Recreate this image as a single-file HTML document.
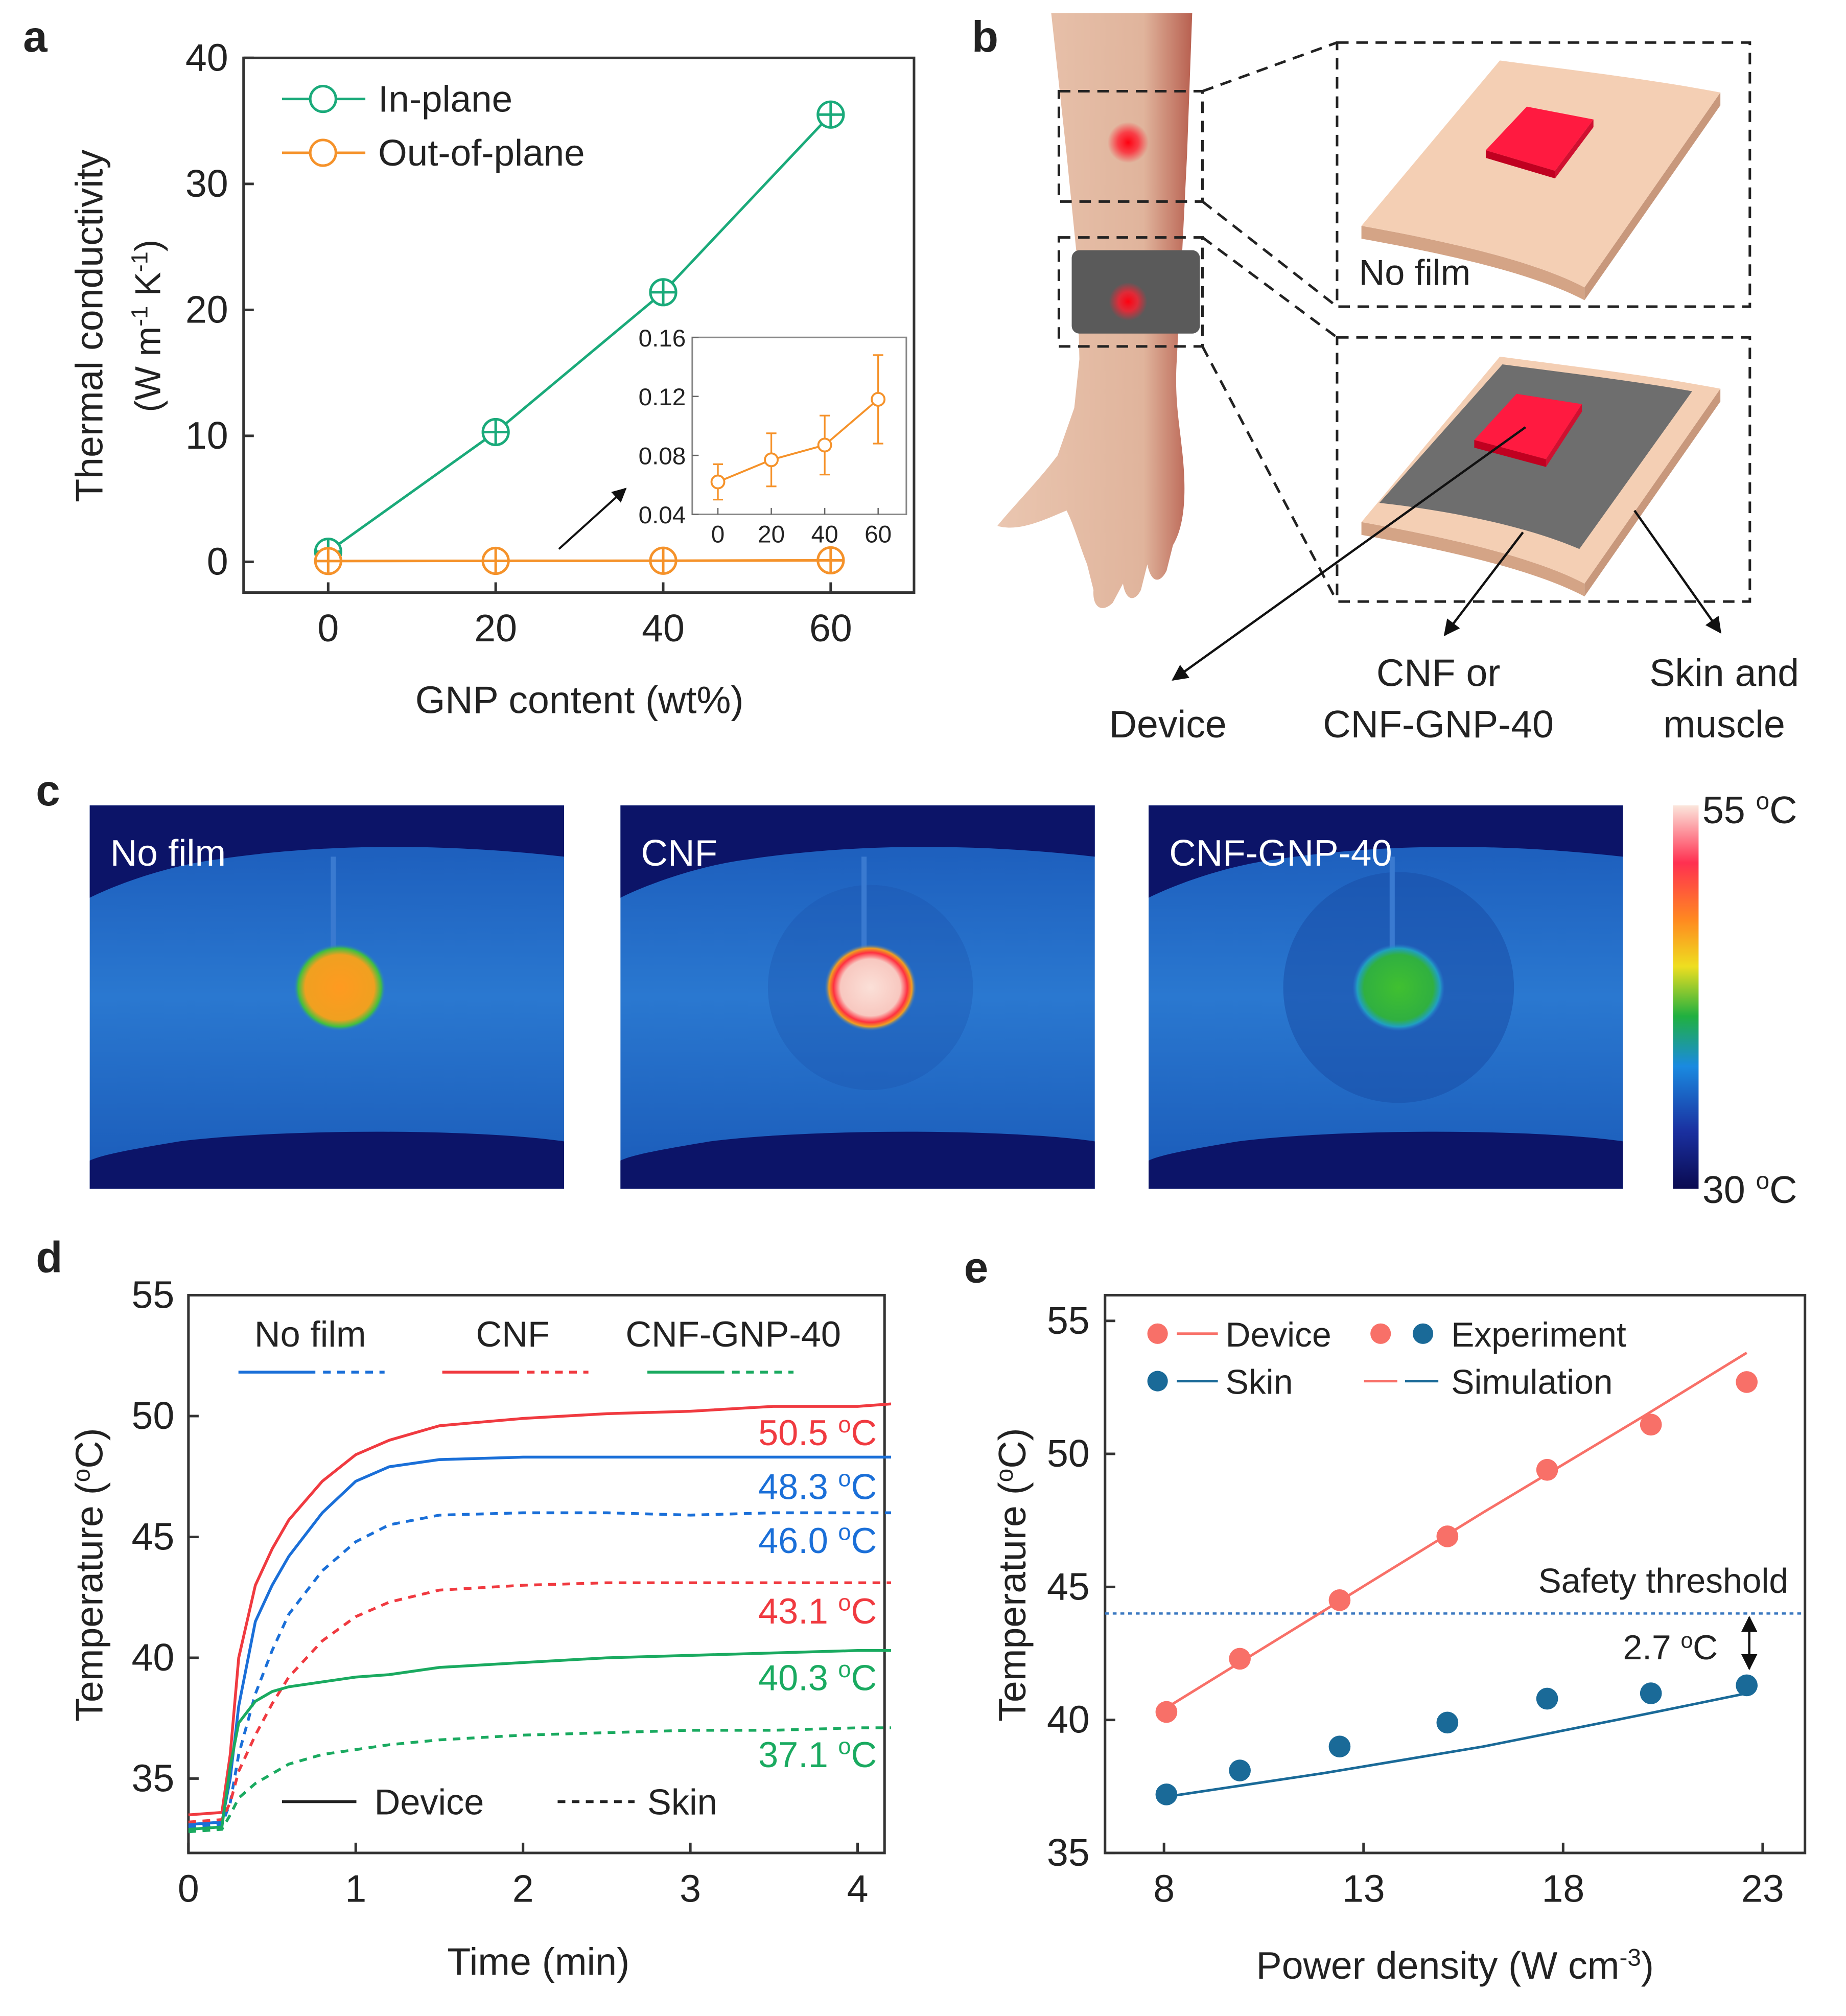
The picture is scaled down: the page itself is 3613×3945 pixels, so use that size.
<!DOCTYPE html>
<html><head><meta charset="utf-8"><style>
html,body{margin:0;padding:0;background:#fff}
svg{display:block}
text{font-family:"Liberation Sans",sans-serif;fill:#222}
</style></head><body>
<svg id="fig" width="3613" height="3945" viewBox="0 0 1440 1572" xmlns="http://www.w3.org/2000/svg">
<defs>
<radialGradient id="redspot"><stop offset="0" stop-color="#ff0010"/><stop offset="0.5" stop-color="#ff2030" stop-opacity="0.8"/><stop offset="1" stop-color="#ff2030" stop-opacity="0"/></radialGradient>
<linearGradient id="armg" x1="0" x2="1"><stop offset="0" stop-color="#eac6b0"/><stop offset="0.75" stop-color="#e0b49c"/><stop offset="1" stop-color="#b86050"/></linearGradient>
<linearGradient id="cbar" x1="0" y1="0" x2="0" y2="1"><stop offset="0" stop-color="#fbe6dc"/><stop offset="0.15" stop-color="#ff3050"/><stop offset="0.3" stop-color="#ff8a20"/><stop offset="0.42" stop-color="#eede20"/><stop offset="0.55" stop-color="#20b040"/><stop offset="0.68" stop-color="#1a8ae0"/><stop offset="0.85" stop-color="#1a30a0"/><stop offset="1" stop-color="#0a0a50"/></linearGradient>
<linearGradient id="thermbg" x1="0" y1="0" x2="0" y2="1"><stop offset="0" stop-color="#1a58b8"/><stop offset="0.5" stop-color="#2a78d0"/><stop offset="1" stop-color="#1a5ab8"/></linearGradient>
<radialGradient id="hotA"><stop offset="0" stop-color="#ff9a20"/><stop offset="0.75" stop-color="#f0a020"/><stop offset="0.9" stop-color="#40c040"/><stop offset="1" stop-color="#2a78d0" stop-opacity="0"/></radialGradient>
<radialGradient id="hotB"><stop offset="0" stop-color="#fbe0d8"/><stop offset="0.65" stop-color="#f8c8c0"/><stop offset="0.8" stop-color="#ff3040"/><stop offset="0.9" stop-color="#f0a020"/><stop offset="1" stop-color="#2a78d0" stop-opacity="0"/></radialGradient>
<radialGradient id="hotC"><stop offset="0" stop-color="#40c030"/><stop offset="0.75" stop-color="#30b040"/><stop offset="0.9" stop-color="#20a0c0"/><stop offset="1" stop-color="#2a78d0" stop-opacity="0"/></radialGradient>
<marker id="arr" viewBox="0 0 10 10" refX="9" refY="5" markerWidth="7" markerHeight="7" orient="auto-start-reverse"><path d="M0,0 L10,5 L0,10 z" fill="#111"/></marker>
</defs>

<!-- Panel a -->
<g id="pa">
<text x="18" y="40" font-size="34" font-weight="bold">a</text>
<rect x="190" y="45" width="523" height="417" fill="none" stroke="#333" stroke-width="2"/>
<text transform="translate(80,254) rotate(-90)" text-anchor="middle" font-size="30">Thermal conductivity</text>
<text transform="translate(125,254) rotate(-90)" text-anchor="middle" font-size="28">(W m<tspan dy="-10" font-size="18">-1</tspan><tspan dy="10"> K</tspan><tspan dy="-10" font-size="18">-1</tspan><tspan dy="10">)</tspan></text>
<text x="452" y="556" text-anchor="middle" font-size="30">GNP content (wt%)</text>
<g id="pa-ax"></g><g id="pa-marks"></g>
<line x1="220" y1="77" x2="285" y2="77" stroke="#1aaa7a" stroke-width="2"/><circle cx="252" cy="77" r="10" fill="#fff" stroke="#1aaa7a" stroke-width="2"/>
<text x="295" y="87" font-size="29">In-plane</text>
<line x1="220" y1="119" x2="285" y2="119" stroke="#f5922a" stroke-width="2"/><circle cx="252" cy="119" r="10" fill="#fff" stroke="#f5922a" stroke-width="2"/>
<text x="295" y="129" font-size="29">Out-of-plane</text>
<line x1="436" y1="428" x2="488" y2="381" stroke="#111" stroke-width="1.6" marker-end="url(#arr)"/>
<rect x="540" y="263" width="167" height="138" fill="#fff" stroke="#888" stroke-width="1.2"/>
<g id="inset-ax"></g><g id="inset-marks"></g>
</g>

<!-- Panel b -->
<g id="pb">
<text x="758" y="40" font-size="34" font-weight="bold">b</text>
<path d="M820,10 L930,10 L926,120 L922,200 L918,280 C916,310 920,330 922,350 C926,385 924,410 915,425 L910,445 C905,455 898,455 895,440 L890,460 C885,470 878,468 876,455 L868,470 C860,478 852,474 853,460 L848,440 C842,425 838,410 832,398 C815,405 795,415 778,410 C790,395 810,375 825,355 L838,318 L842,280 L840,200 L832,120 Z" fill="url(#armg)"/>
<rect x="836" y="195" width="100" height="65" rx="6" fill="#5a5a5a"/>
<circle cx="880" cy="111" r="16" fill="url(#redspot)"/>
<circle cx="880" cy="235" r="15" fill="url(#redspot)"/>
<g fill="none" stroke="#222" stroke-width="2" stroke-dasharray="9,6">
<rect x="826" y="71" width="112" height="86"/>
<rect x="826" y="185" width="112" height="85"/>
<rect x="1043" y="33" width="322" height="206"/>
<rect x="1043" y="263" width="322" height="206"/>
<path d="M938,71 L1043,33 M938,157 L1043,239 M938,185 L1043,263 M938,270 L1043,469"/>
</g>
<g>
<path d="M1062,176 C1140,190 1200,205 1236,224 L1236,234 C1200,215 1140,200 1062,186 Z" fill="#d4a486"/>
<path d="M1342,72 L1342,82 L1236,234 L1236,224 Z" fill="#c8987c"/>
<path d="M1062,176 L1170,47 C1230,55 1290,62 1342,72 L1236,224 C1200,205 1140,190 1062,176 Z" fill="#f4cfb4"/>
<path d="M1159,117 L1191,83 L1243,93 L1213,133 Z" fill="#ff1a40"/><path d="M1159,117 L1213,133 L1213,139 L1159,123 Z" fill="#c00020"/><path d="M1243,93 L1243,99 L1213,139 L1213,133 Z" fill="#d01030"/>
</g>
<text x="1060" y="222" font-size="28">No film</text>
<g>
<path d="M1062,407 C1140,421 1200,436 1236,455 L1236,465 C1200,446 1140,431 1062,417 Z" fill="#d4a486"/>
<path d="M1342,303 L1342,313 L1236,465 L1236,455 Z" fill="#c8987c"/>
<path d="M1062,407 L1170,278 C1230,286 1290,293 1342,303 L1236,455 C1200,436 1140,421 1062,407 Z" fill="#f4cfb4"/>
<path d="M1076,392 L1172,284 C1225,291 1275,297 1320,305 L1232,428 C1190,410 1130,398 1076,392 Z" fill="#6e6e6e"/>
<path d="M1150,343 L1183,307 L1234,315 L1206,358 Z" fill="#ff1a40"/><path d="M1150,343 L1206,358 L1206,364 L1150,349 Z" fill="#c00020"/><path d="M1234,315 L1234,321 L1206,364 L1206,358 Z" fill="#d01030"/>
</g>
<g stroke="#111" stroke-width="1.8" fill="none">
<line x1="1190" y1="333" x2="915" y2="530" marker-end="url(#arr)"/>
<line x1="1188" y1="415" x2="1127" y2="495" marker-end="url(#arr)"/>
<line x1="1275" y1="398" x2="1342" y2="493" marker-end="url(#arr)"/>
</g>
<text x="911" y="575" text-anchor="middle" font-size="30">Device</text>
<text x="1122" y="535" text-anchor="middle" font-size="30">CNF or</text>
<text x="1122" y="575" text-anchor="middle" font-size="30">CNF-GNP-40</text>
<text x="1345" y="535" text-anchor="middle" font-size="30">Skin and</text>
<text x="1345" y="575" text-anchor="middle" font-size="30">muscle</text>
</g>

<!-- Panel c -->
<g id="pc">
<text x="28" y="628" font-size="34" font-weight="bold">c</text>
<g id="therm"></g>
<rect x="1305" y="628" width="20" height="299" fill="url(#cbar)"/>
<text x="1328" y="642" font-size="30">55 <tspan dy="-11" font-size="19">o</tspan><tspan dy="11">C</tspan></text>
<text x="1328" y="938" font-size="30">30 <tspan dy="-11" font-size="19">o</tspan><tspan dy="11">C</tspan></text>
</g>

<!-- Panel d -->
<g id="pd">
<text x="28" y="992" font-size="34" font-weight="bold">d</text>
<rect x="147" y="1010" width="543" height="435" fill="none" stroke="#333" stroke-width="2"/>
<text transform="translate(80,1228) rotate(-90)" text-anchor="middle" font-size="30">Temperature (<tspan dy="-10" font-size="19">o</tspan><tspan dy="10">C)</tspan></text>
<text x="420" y="1540" text-anchor="middle" font-size="30">Time (min)</text>
<g id="pd-ax"></g><g id="pd-lines"></g>
<text x="242" y="1050" text-anchor="middle" font-size="28">No film</text>
<text x="400" y="1050" text-anchor="middle" font-size="28">CNF</text>
<text x="572" y="1050" text-anchor="middle" font-size="28">CNF-GNP-40</text>
<g stroke-width="2.2">
<line x1="186" y1="1070" x2="246" y2="1070" stroke="#1a6fd8"/><line x1="252" y1="1070" x2="300" y2="1070" stroke="#1a6fd8" stroke-dasharray="6,5"/>
<line x1="345" y1="1070" x2="405" y2="1070" stroke="#f03a40"/><line x1="411" y1="1070" x2="459" y2="1070" stroke="#f03a40" stroke-dasharray="6,5"/>
<line x1="505" y1="1070" x2="565" y2="1070" stroke="#1aaa60"/><line x1="571" y1="1070" x2="619" y2="1070" stroke="#1aaa60" stroke-dasharray="6,5"/>
<line x1="220" y1="1405" x2="278" y2="1405" stroke="#222"/><line x1="435" y1="1405" x2="495" y2="1405" stroke="#222" stroke-dasharray="6,5"/>
</g>
<text x="292" y="1415" font-size="28">Device</text>
<text x="505" y="1415" font-size="28">Skin</text>
<g id="pd-labels"></g>
</g>

<!-- Panel e -->
<g id="pe">
<text x="752" y="1000" font-size="34" font-weight="bold">e</text>
<rect x="862" y="1010" width="546" height="435" fill="none" stroke="#333" stroke-width="2"/>
<text transform="translate(800,1228) rotate(-90)" text-anchor="middle" font-size="30">Temperature (<tspan dy="-10" font-size="19">o</tspan><tspan dy="10">C)</tspan></text>
<text x="1135" y="1543" text-anchor="middle" font-size="30">Power density (W cm<tspan dy="-10" font-size="19">-3</tspan><tspan dy="10">)</tspan></text>
<g id="pe-ax"></g><g id="pe-marks"></g>
<circle cx="903" cy="1040" r="8" fill="#f87068"/><line x1="918" y1="1040" x2="950" y2="1040" stroke="#f87068" stroke-width="2"/>
<text x="956" y="1050" font-size="27">Device</text>
<circle cx="1077" cy="1040" r="8" fill="#f87068"/><circle cx="1110" cy="1040" r="8" fill="#1a6a98"/>
<text x="1132" y="1050" font-size="27">Experiment</text>
<circle cx="903" cy="1077" r="8" fill="#1a6a98"/><line x1="918" y1="1077" x2="950" y2="1077" stroke="#1a6a98" stroke-width="2"/>
<text x="956" y="1087" font-size="27">Skin</text>
<line x1="1064" y1="1077" x2="1090" y2="1077" stroke="#f87068" stroke-width="2"/><line x1="1096" y1="1077" x2="1122" y2="1077" stroke="#1a6a98" stroke-width="2"/>
<text x="1132" y="1087" font-size="27">Simulation</text>
<text x="1395" y="1242" text-anchor="end" font-size="27">Safety threshold</text>
<text x="1340" y="1294" text-anchor="end" font-size="27">2.7 <tspan dy="-9" font-size="17">o</tspan><tspan dy="9">C</tspan></text>
</g>

<script>
const NS='http://www.w3.org/2000/svg';
function mk(parent,tag,attrs,txt){const e=document.createElementNS(NS,tag);for(const k in attrs)e.setAttribute(k,attrs[k]);if(txt!==undefined)e.textContent=txt;parent.appendChild(e);return e;}

// ---------- Panel a data ----------
const aX=[0,20,40,60];
const aInPlane=[0.8,10.3,21.4,35.5];
const aOutPlane=[0.062,0.077,0.087,0.118];
const aOutErr=[0.012,0.018,0.02,0.03];
const aXTicks=[0,20,40,60];
const aYTicks=[0,10,20,30,40];
const insetYTicks=[0.04,0.08,0.12,0.16];
const insetXTicks=[0,20,40,60];

(function(){
 const xs=v=>256+(v-0)*(648-256)/60, ys=v=>438-v*(438-45)/40;
 const ax=document.getElementById('pa-ax'), mg=document.getElementById('pa-marks');
 aXTicks.forEach(t=>{const x=xs(t);mk(ax,'line',{x1:x,x2:x,y1:462,y2:454,stroke:'#333','stroke-width':2});
  const e=mk(ax,'text',{x:x,y:500,'text-anchor':'middle','font-size':30},t);
  
  });
 aYTicks.forEach(t=>{const y=ys(t);mk(ax,'line',{x1:190,x2:198,y1:y,y2:y,stroke:'#333','stroke-width':2});
  const e=mk(ax,'text',{x:178,y:y+10,'text-anchor':'end','font-size':30},t);
  
  });
 const lineFor=(arr,col,name)=>{const p=mk(mg,'polyline',{points:aX.map((x,i)=>xs(x)+','+ys(arr[i])).join(' '),fill:'none',stroke:col,'stroke-width':2});
  
  
  aX.forEach((x,i)=>{const cx=xs(x),cy=ys(arr[i]);const c=mk(mg,'circle',{cx:cx,cy:cy,r:10,fill:'#fff',stroke:col,'stroke-width':2});
   
   
   mk(mg,'line',{x1:cx-10,x2:cx+10,y1:cy,y2:cy,stroke:col,'stroke-width':2});mk(mg,'line',{x1:cx,x2:cx,y1:cy-10,y2:cy+10,stroke:col,'stroke-width':2});});};
 lineFor(aInPlane,'#1aaa7a','in-plane-line');
 lineFor(aOutPlane,'#f5922a','out-of-plane-line');
 const ix=v=>560+v*(685-560)/60, iy=v=>401-(v-0.04)*(401-263)/0.12;
 const iax=document.getElementById('inset-ax'), img=document.getElementById('inset-marks');
 insetYTicks.forEach(t=>{const y=iy(t);mk(iax,'line',{x1:540,x2:545,y1:y,y2:y,stroke:'#666'});
  const e=mk(iax,'text',{x:535,y:y+7,'text-anchor':'end','font-size':19},t.toFixed(2));
  
  });
 insetXTicks.forEach(t=>{const x=ix(t);mk(iax,'line',{x1:x,x2:x,y1:401,y2:396,stroke:'#666'});
  const e=mk(iax,'text',{x:x,y:423,'text-anchor':'middle','font-size':19},t);
  
  });
 const pl=mk(img,'polyline',{points:aX.map((x,i)=>ix(x)+','+iy(aOutPlane[i])).join(' '),fill:'none',stroke:'#f5922a','stroke-width':1.5});
 
 
 aX.forEach((x,i)=>{const cx=ix(x),y0=iy(aOutPlane[i]-aOutErr[i]),y1=iy(aOutPlane[i]+aOutErr[i]);
  mk(img,'line',{x1:cx,x2:cx,y1:y0,y2:y1,stroke:'#f5922a','stroke-width':1.3});
  mk(img,'line',{x1:cx-4,x2:cx+4,y1:y0,y2:y0,stroke:'#f5922a','stroke-width':1.3});
  mk(img,'line',{x1:cx-4,x2:cx+4,y1:y1,y2:y1,stroke:'#f5922a','stroke-width':1.3});
  const c=mk(img,'circle',{cx:cx,cy:iy(aOutPlane[i]),r:5,fill:'#fff',stroke:'#f5922a','stroke-width':1.5});
  
  });
})();

// ---------- Panel c thermal images ----------
const thermNames=['No film','CNF','CNF-GNP-40'];
(function(){
 const g=document.getElementById('therm');
 const xs=[70,484,896], grads=['hotA','hotB','hotC'];
 xs.forEach((x0,i)=>{
  const gg=mk(g,'g',{});
  
  
  mk(gg,'rect',{x:x0,y:628,width:370,height:299,fill:'url(#thermbg)'});
  mk(gg,'path',{d:`M${x0},628 L${x0+370},628 L${x0+370},668 C${x0+300},660 ${x0+200},655 ${x0+100},670 C${x0+60},675 ${x0+20},690 ${x0},700 Z`,fill:'#0c1468'});
  mk(gg,'path',{d:`M${x0},927 L${x0+370},927 L${x0+370},890 C${x0+300},880 ${x0+150},880 ${x0+70},890 C${x0+40},895 ${x0+10},900 ${x0},905 Z`,fill:'#0c1468'});
  if(i>0) mk(gg,'circle',{cx:x0+195,cy:770,r:i===2?90:80,fill:'#1a4ea8',opacity:i===2?0.55:0.3});
  mk(gg,'line',{x1:x0+190,x2:x0+190,y1:668,y2:745,stroke:'#3a7ad0','stroke-width':4});
  mk(gg,'ellipse',{cx:x0+195,cy:770,rx:36,ry:34,fill:'url(#'+grads[i]+')'});
  const t=mk(gg,'text',{x:x0+16,y:675,'font-size':29,fill:'#fff'},thermNames[i]);
  t.setAttribute('style','fill:#fff');
  
  
 });
})();

// ---------- Panel d data ----------
const dTime=[0,0.2,0.25,0.3,0.4,0.5,0.6,0.8,1.0,1.2,1.5,2,2.5,3,3.5,4,4.2];
const dCnfDevice=[33.5,33.6,36,40,43,44.5,45.7,47.3,48.4,49,49.6,49.9,50.1,50.2,50.4,50.4,50.5];
const dNoFilmDevice=[33.1,33.2,35,38,41.5,43,44.2,46,47.3,47.9,48.2,48.3,48.3,48.3,48.3,48.3,48.3];
const dNoFilmSkin=[33.0,33.1,34,36,38.5,40.3,41.8,43.6,44.8,45.5,45.9,46.0,46.0,45.9,46.0,46.0,46.0];
const dCnfSkin=[33.2,33.3,34,35.3,36.8,38.1,39.2,40.7,41.7,42.3,42.8,43.0,43.1,43.1,43.1,43.1,43.1];
const dGnpDevice=[32.9,33.0,35.5,37.3,38.2,38.6,38.8,39.0,39.2,39.3,39.6,39.8,40.0,40.1,40.2,40.3,40.3];
const dGnpSkin=[32.8,32.9,33.5,34.2,34.8,35.2,35.6,36.0,36.2,36.4,36.6,36.8,36.9,37.0,37.0,37.1,37.1];
const dXTicks=[0,1,2,3,4];
const dYTicks=[35,40,45,50,55];
const dEndLabels=['50.5','48.3','46.0','43.1','40.3','37.1'];

(function(){
 const xs=v=>147+v*(669-147)/4, ys=v=>1387-(v-35)*(1387-1010)/20;
 const ax=document.getElementById('pd-ax'), lg=document.getElementById('pd-lines'), lb=document.getElementById('pd-labels');
 dXTicks.forEach(t=>{const x=xs(t);mk(ax,'line',{x1:x,x2:x,y1:1445,y2:1437,stroke:'#333','stroke-width':2});
  const e=mk(ax,'text',{x:x,y:1483,'text-anchor':'middle','font-size':30},t);
  
  });
 dYTicks.forEach(t=>{const y=ys(t);mk(ax,'line',{x1:147,x2:155,y1:y,y2:y,stroke:'#333','stroke-width':2});
  const e=mk(ax,'text',{x:136,y:y+10,'text-anchor':'end','font-size':30},t);
  
  });
 const series=[[dCnfDevice,'#f03a40',0,'cnf-device-line'],[dNoFilmDevice,'#1a6fd8',0,'no-film-device-line'],[dNoFilmSkin,'#1a6fd8',1,'no-film-skin-line'],[dCnfSkin,'#f03a40',1,'cnf-skin-line'],[dGnpDevice,'#1aaa60',0,'gnp-device-line'],[dGnpSkin,'#1aaa60',1,'gnp-skin-line']];
 series.forEach((s,k)=>{
  const attrs={points:dTime.map((t,i)=>xs(t).toFixed(1)+','+ys(s[0][i]).toFixed(1)).join(' '),fill:'none',stroke:s[1],'stroke-width':2.2};
  if(s[2]) attrs['stroke-dasharray']='6,5';
  const p=mk(lg,'polyline',attrs);
  
  
  const lblY=[1127,1169,1211,1266,1318,1378][k];
  const e=mk(lb,'text',{x:684,y:lblY,'text-anchor':'end','font-size':28},dEndLabels[k]+' ');
  e.setAttribute('style','fill:'+s[1]);
  const t1=mk(e,'tspan',{dy:-10,'font-size':18,style:'fill:'+s[1]},'o');
  const t2=mk(e,'tspan',{dy:10,style:'fill:'+s[1]},'C');
  
  
 });
})();

// ---------- Panel e data ----------
const ePower=[8.06,9.9,12.4,15.1,17.6,20.2,22.6];
const eDeviceExp=[40.3,42.3,44.5,46.9,49.4,51.1,52.7];
const eSkinExp=[37.2,38.1,39.0,39.9,40.8,41.0,41.3];
const eSimX=[8,12,16,20,22.6];
const eDeviceSim=[40.4,44.1,47.8,51.4,53.8];
const eSkinSim=[37.1,38.0,39.0,40.2,41.0];
const eThreshold=44;
const eXTicks=[8,13,18,23];
const eYTicks=[35,40,45,50,55];

(function(){
 const xs=v=>908+(v-8)*(1375-908)/15, ys=v=>1445-(v-35)*(1445-1030)/20;
 const ax=document.getElementById('pe-ax'), mg=document.getElementById('pe-marks');
 eXTicks.forEach(t=>{const x=xs(t);mk(ax,'line',{x1:x,x2:x,y1:1445,y2:1437,stroke:'#333','stroke-width':2});
  const e=mk(ax,'text',{x:x,y:1483,'text-anchor':'middle','font-size':30},t);
  
  });
 eYTicks.forEach(t=>{const y=ys(t);mk(ax,'line',{x1:862,x2:870,y1:y,y2:y,stroke:'#333','stroke-width':2});
  const e=mk(ax,'text',{x:850,y:y+10,'text-anchor':'end','font-size':30},t);
  
  });
 const ty=ys(eThreshold);
 const th=mk(mg,'line',{x1:862,x2:1408,y1:ty,y2:ty,stroke:'#3a78c0','stroke-width':1.8,'stroke-dasharray':'3,3'});
 
 
 const gx=xs(22.6)+2;
 const dl=mk(mg,'line',{x1:gx,x2:gx,y1:ty+3,y2:ys(eSkinExp[6])-13,stroke:'#111','stroke-width':1.8,'marker-end':'url(#arr)','marker-start':'url(#arr)'});
 
 
 [[eDeviceSim,'#f87068','device-simulation-line'],[eSkinSim,'#1a6a98','skin-simulation-line']].forEach(s=>{
  const p=mk(mg,'polyline',{points:eSimX.map((x,i)=>xs(x)+','+ys(s[0][i])).join(' '),fill:'none',stroke:s[1],'stroke-width':2});
  
  });
 [[eDeviceExp,'#f87068','device-experiment-point'],[eSkinExp,'#1a6a98','skin-experiment-point']].forEach(s=>{
  ePower.forEach((x,i)=>{const c=mk(mg,'circle',{cx:xs(x),cy:ys(s[0][i]),r:8.5,fill:s[1]});
   
   });});
})();
</script>
</svg>
</body></html>
